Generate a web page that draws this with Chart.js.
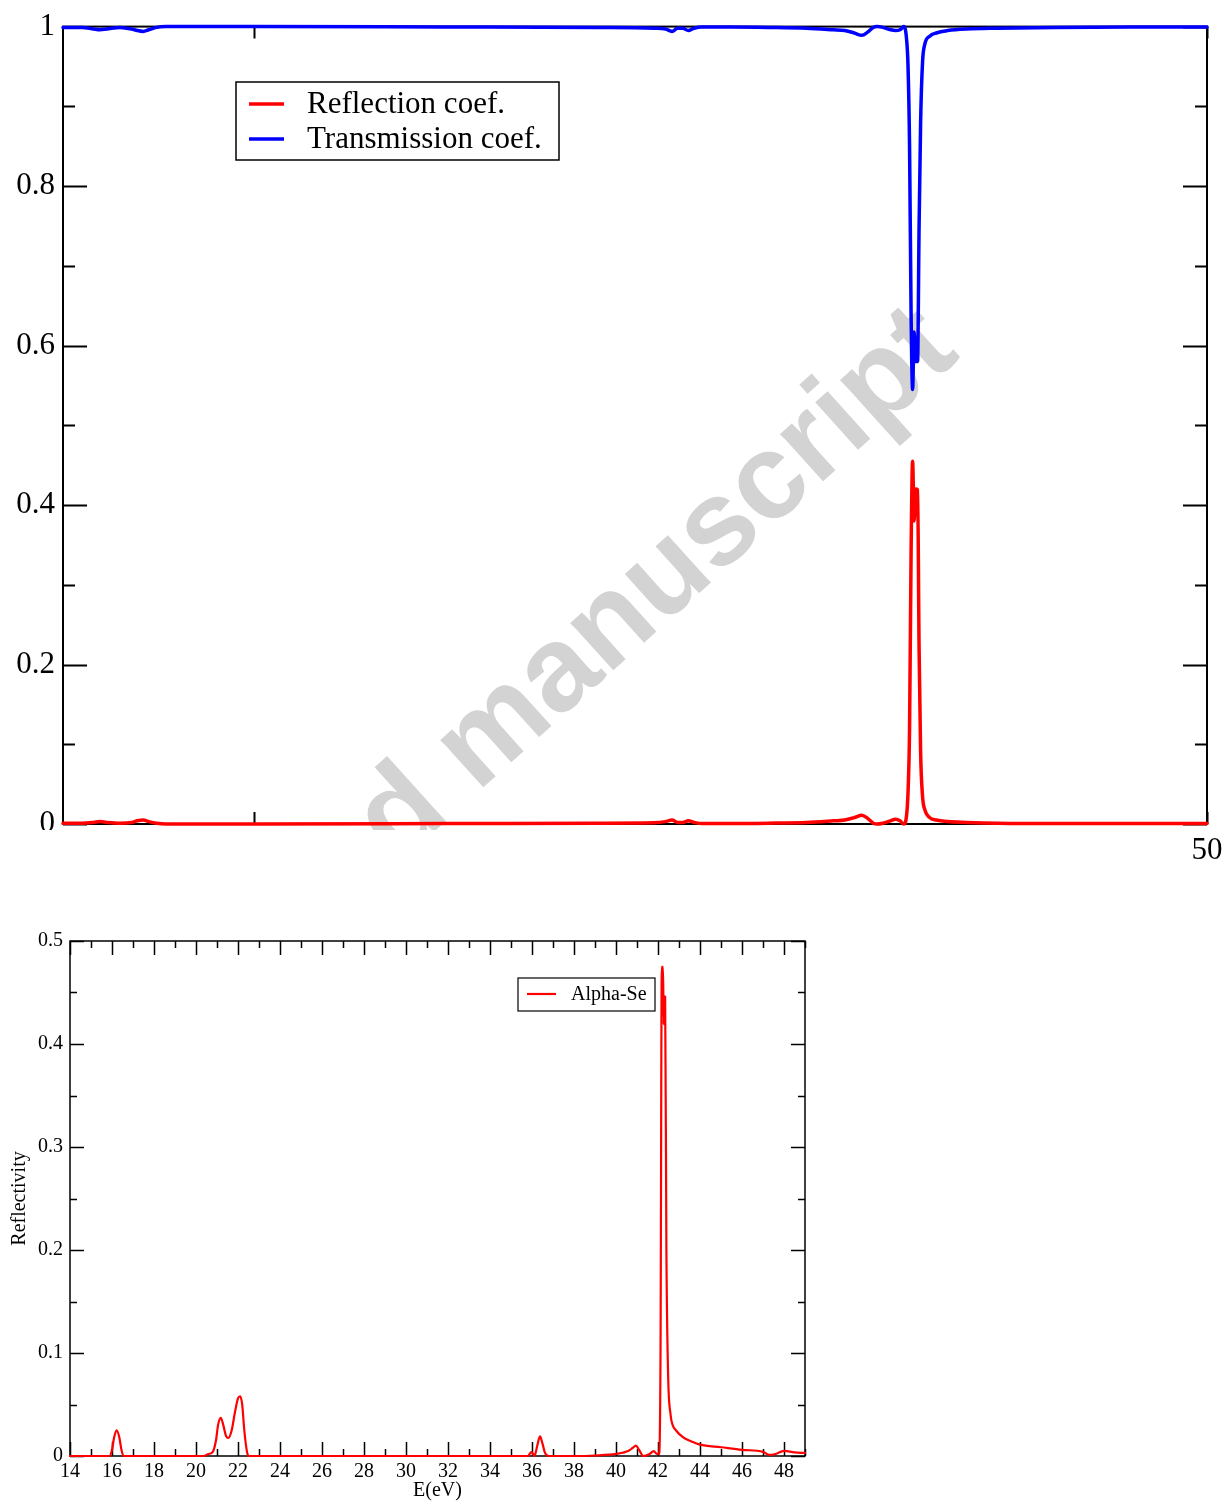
<!DOCTYPE html>
<html>
<head>
<meta charset="utf-8">
<script src="https://cdn.jsdelivr.net/npm/chart.js@4.4.0/dist/chart.umd.min.js"></script>
<style>
  html, body { margin: 0; padding: 0; background: #fff; }
  #page { position: relative; width: 1225px; height: 1503px; overflow: hidden; }
  #topWrap { position: absolute; left: 0; top: 0; width: 1225px; height: 870px; }
  #botWrap { position: absolute; left: 0; top: 900px; width: 1225px; height: 603px; }
</style>
</head>
<body>
<div id="page">
  <div id="topWrap"><canvas id="chartTop" width="1225" height="870"></canvas></div>
  <div id="botWrap"><canvas id="chartBot" width="1225" height="603"></canvas></div>
</div>
<script>
// ── top panel : reflection / transmission coefficients ──
const topE = [20.0, 20.5, 20.8, 20.97, 21.15, 21.5, 21.8, 21.95, 22.1, 22.25, 22.45, 22.7, 25.0, 30.0, 34.0,
  35.5, 35.8, 35.97, 36.12, 36.25, 36.4, 36.55, 36.75, 37.5, 38.5, 39.5, 40.2, 40.5, 40.75, 40.95,
  41.1, 41.25, 41.35, 41.5, 41.7, 41.83, 41.95, 42.05, 42.12, 42.16, 42.2, 42.24, 42.28, 42.32, 42.36,
  42.41, 42.45, 42.49, 42.54, 42.6, 42.73, 42.9, 43.2, 43.7, 44.5, 46.0, 48.0, 50.0];
const topR = [0.001, 0.001, 0.002, 0.003, 0.002, 0.001, 0.002, 0.004, 0.005, 0.003, 0.001, 0.0, 0.0, 0.0005, 0.001,
  0.0015, 0.003, 0.005, 0.002, 0.002, 0.004, 0.002, 0.0005, 0.0005, 0.001, 0.002, 0.004, 0.005, 0.008, 0.011,
  0.007, 0.001, 0.0, 0.001, 0.004, 0.006, 0.004, 0.0, 0.01, 0.04, 0.12, 0.34, 0.455, 0.38, 0.42,
  0.419, 0.22, 0.09, 0.035, 0.018, 0.008, 0.005, 0.003, 0.002, 0.001, 0.0005, 0.0005, 0.0005];
const topT = [0.999, 0.999, 0.997, 0.996, 0.997, 0.999, 0.997, 0.995, 0.994, 0.996, 0.999, 1.0, 1.0, 0.9995, 0.999,
  0.998, 0.997, 0.994, 0.998, 0.998, 0.995, 0.998, 0.9995, 0.9995, 0.999, 0.998, 0.996, 0.995, 0.992, 0.989,
  0.993, 0.999, 1.0, 0.999, 0.996, 0.995, 0.996, 1.0, 0.985, 0.95, 0.85, 0.64, 0.545, 0.617, 0.58,
  0.58, 0.75, 0.88, 0.955, 0.978, 0.988, 0.992, 0.995, 0.997, 0.998, 0.999, 0.9995, 0.9995];
const topLabels = ['Reflection coef.', 'Transmission coef.'];
const topXMajor = [25, 50];
const topXLabeled = [50];
const topYMajor = [0, 0.2, 0.4, 0.6, 0.8, 1];
const topYMinor = [0.1, 0.3, 0.5, 0.7, 0.9];

// ── bottom panel : reflectivity of alpha-Se ──
const botE = [14.0, 15.88, 16.0, 16.1, 16.22, 16.35, 16.45, 16.55, 20.35, 20.6, 20.8, 20.95, 21.05, 21.18, 21.3,
  21.42, 21.54, 21.7, 21.85, 22.0, 22.1, 22.2, 22.3, 22.42, 22.5, 35.8, 35.98, 36.12, 36.25, 36.38,
  36.5, 36.62, 36.8, 38.0, 39.0, 40.0, 40.6, 40.8, 40.95, 41.1, 41.3, 41.6, 41.8, 41.95, 42.05,
  42.12, 42.18, 42.24, 42.27, 42.3, 42.34, 42.4, 42.48, 42.6, 42.7, 42.85, 43.2, 43.6, 44.0, 45.0,
  46.0, 47.0, 47.3, 47.6, 48.0, 48.5, 49.0];
const botR = [0.0, 0.0, 0.006, 0.018, 0.025, 0.018, 0.006, 0.0, 0.0, 0.002, 0.004, 0.015, 0.03, 0.037, 0.03,
  0.02, 0.0175, 0.025, 0.042, 0.056, 0.058, 0.05, 0.025, 0.005, 0.0, 0.0, 0.004, 0.0, 0.01, 0.019,
  0.012, 0.003, 0.0, 0.0, 0.0005, 0.002, 0.005, 0.008, 0.010, 0.006, 0.0, 0.002, 0.0047, 0.002, 0.002,
  0.1, 0.475, 0.475, 0.419, 0.446, 0.446, 0.2, 0.08, 0.04, 0.03, 0.025, 0.018, 0.014, 0.011, 0.0085,
  0.006, 0.004, 0.001, 0.002, 0.005, 0.0035, 0.003];
const botLabel = 'Alpha-Se';
const botXMajor = [14, 16, 18, 20, 22, 24, 26, 28, 30, 32, 34, 36, 38, 40, 42, 44, 46, 48];
const botXMinor = [15, 17, 19, 21, 23, 25, 27, 29, 31, 33, 35, 37, 39, 41, 43, 45, 47, 49];
const botYMajor = [0, 0.1, 0.2, 0.3, 0.4, 0.5];
const botYMinor = [0.05, 0.15, 0.25, 0.35, 0.45];

const SERIF = '"Liberation Serif", "Times New Roman", serif';
const pts = (xs, ys) => xs.map((x, i) => ({ x, y: ys[i] }));

// cadre + graduations vers l'intérieur sur les 4 côtés
function framePlugin(o) {
  return {
    id: 'frame',
    beforeDatasetsDraw(chart) {
      const { ctx, chartArea: a, scales: { x, y } } = chart;
      ctx.save();
      ctx.strokeStyle = '#000';
      ctx.lineWidth = o.frame;
      ctx.strokeRect(a.left, a.top, a.right - a.left, a.bottom - a.top);
      ctx.lineWidth = o.tick;
      ctx.beginPath();
      const xt = (vals, len) => vals.forEach(v => {
        const p = Math.round(x.getPixelForValue(v)) + 0.5;
        ctx.moveTo(p, a.bottom); ctx.lineTo(p, a.bottom - len);
        ctx.moveTo(p, a.top); ctx.lineTo(p, a.top + len);
      });
      const yt = (vals, len) => vals.forEach(v => {
        const p = Math.round(y.getPixelForValue(v)) + 0.5;
        ctx.moveTo(a.left, p); ctx.lineTo(a.left + len, p);
        ctx.moveTo(a.right, p); ctx.lineTo(a.right - len, p);
      });
      xt(o.xMajor, o.xMajorLen); xt(o.xMinor, o.minorLen);
      yt(o.yMajor, o.majorLen); yt(o.yMinor, o.minorLen);
      ctx.stroke();
      ctx.restore();
    }
  };
}

function legendPlugin(o) {
  return {
    id: 'boxLegend',
    afterDatasetsDraw(chart) {
      const { ctx } = chart;
      ctx.save();
      ctx.fillStyle = '#fff';
      ctx.fillRect(o.x, o.y, o.w, o.h);
      ctx.strokeStyle = '#000';
      ctx.lineWidth = o.border;
      ctx.strokeRect(o.x, o.y, o.w, o.h);
      ctx.font = o.font;
      ctx.textBaseline = 'middle';
      ctx.textAlign = 'left';
      chart.data.datasets.forEach((ds, i) => {
        const yy = o.y + o.first + i * o.gap;
        ctx.strokeStyle = ds.borderColor;
        ctx.lineWidth = ds.borderWidth;
        ctx.beginPath();
        ctx.moveTo(o.x + o.l0, yy); ctx.lineTo(o.x + o.l1, yy);
        ctx.stroke();
        ctx.fillStyle = '#000';
        ctx.fillText(ds.label, o.x + o.tx, yy + 1);
      });
      ctx.restore();
    }
  };
}

const watermark = {
  id: 'watermark',
  beforeDatasetsDraw(chart) {
    const { ctx } = chart;
    ctx.save();
    ctx.beginPath();
    ctx.rect(0, 0, chart.width, 830);
    ctx.clip();
    ctx.translate(477, 793);
    ctx.rotate(-42 * Math.PI / 180);
    ctx.font = 'bold 121px "Liberation Sans", Arial, sans-serif';
    ctx.fillStyle = '#d3d3d3';
    ctx.textBaseline = 'alphabetic';
    ctx.textAlign = 'left';
    ctx.fillText('manuscript', 0, 0);
    ctx.textAlign = 'right';
    ctx.fillText('Accepted ', 0, 0);
    ctx.restore();
  }
};

// la figure du haut est rognée juste sous l'axe
const cropTop = {
  id: 'cropTop',
  afterDraw(chart) {
    const { ctx } = chart;
    ctx.save();
    ctx.fillStyle = '#fff';
    ctx.fillRect(0, 830, 1175, 40);
    ctx.restore();
  }
};

const lineEl = { tension: 0.4, cubicInterpolationMode: 'monotone', fill: false,
  borderJoinStyle: 'round', borderCapStyle: 'round' };
// pas de marge auto pour les étiquettes qui débordent : la zone de tracé reste fixe
const noEdgePad = s => { s.paddingLeft = 0; s.paddingRight = 0; };

new Chart(document.getElementById('chartTop'), {
  type: 'line',
  data: {
    datasets: [
      { label: topLabels[0], data: pts(topE, topR), borderColor: '#ff0000', borderWidth: 3.5 },
      { label: topLabels[1], data: pts(topE, topT), borderColor: '#0000ff', borderWidth: 3.5 },
    ],
  },
  options: {
    responsive: false, animation: false, devicePixelRatio: 1,
    layout: { padding: { top: 24, right: 18, left: 0, bottom: 0 } },
    elements: { point: { radius: 0 }, line: lineEl },
    datasets: { line: { clip: false } },
    plugins: { legend: { display: false }, tooltip: { enabled: false } },
    scales: {
      x: {
        type: 'linear', min: 20, max: 50,
        afterBuildTicks: s => { s.ticks = topXMajor.map(v => ({ value: v })); },
        afterFit: s => { s.height = 46; noEdgePad(s); },
        grid: { display: false, drawTicks: false }, border: { display: false },
        ticks: { autoSkip: false, maxRotation: 0, padding: 8, color: '#000',
          font: { family: SERIF, size: 31 },
          callback: v => topXLabeled.includes(v) ? String(v) : '' },
      },
      y: {
        type: 'linear', min: 0, max: 1,
        afterBuildTicks: s => { s.ticks = topYMajor.map(v => ({ value: v })); },
        afterFit: s => { s.width = 63; },
        grid: { display: false, drawTicks: false }, border: { display: false },
        ticks: { autoSkip: false, padding: 8, color: '#000',
          font: { family: SERIF, size: 31 }, callback: v => String(v) },
      },
    },
  },
  plugins: [
    watermark,
    framePlugin({ frame: 2, tick: 2, xMajor: topXMajor, xMinor: [], yMajor: topYMajor, yMinor: topYMinor,
      xMajorLen: 12, majorLen: 24, minorLen: 12 }),
    legendPlugin({ x: 236, y: 82, w: 323, h: 78, border: 1.5, first: 22, gap: 35, l0: 13, l1: 48, tx: 71,
      font: '31px ' + SERIF }),
    cropTop,
  ],
});

new Chart(document.getElementById('chartBot'), {
  type: 'line',
  data: {
    datasets: [
      { label: botLabel, data: pts(botE, botR), borderColor: '#ff0000', borderWidth: 2.2 },
    ],
  },
  options: {
    responsive: false, animation: false, devicePixelRatio: 1,
    layout: { padding: { top: 41, right: 420, left: 0, bottom: 0 } },
    elements: { point: { radius: 0 }, line: lineEl },
    datasets: { line: { clip: false } },
    plugins: { legend: { display: false }, tooltip: { enabled: false } },
    scales: {
      x: {
        type: 'linear', min: 14, max: 49,
        afterBuildTicks: s => { s.ticks = botXMajor.map(v => ({ value: v })); },
        afterFit: s => { s.height = 47; noEdgePad(s); },
        grid: { display: false, drawTicks: false }, border: { display: false },
        ticks: { autoSkip: false, maxRotation: 0, padding: 4, color: '#000',
          font: { family: SERIF, size: 20 }, callback: v => String(v) },
        title: { display: true, text: 'E(eV)', color: '#000', padding: 0,
          font: { family: SERIF, size: 20 } },
      },
      y: {
        type: 'linear', min: 0, max: 0.5,
        afterBuildTicks: s => { s.ticks = botYMajor.map(v => ({ value: v })); },
        afterFit: s => { s.width = 70; },
        grid: { display: false, drawTicks: false }, border: { display: false },
        ticks: { autoSkip: false, padding: 7, color: '#000',
          font: { family: SERIF, size: 20 }, callback: v => String(v) },
        title: { display: true, text: 'Reflectivity', color: '#000', padding: { top: 8, bottom: 0 },
          font: { family: SERIF, size: 20 } },
      },
    },
  },
  plugins: [
    framePlugin({ frame: 1.5, tick: 1.5, xMajor: botXMajor, xMinor: botXMinor, yMajor: botYMajor, yMinor: botYMinor,
      xMajorLen: 14, majorLen: 14, minorLen: 7 }),
    legendPlugin({ x: 518, y: 78, w: 137, h: 33, border: 1.2, first: 16, gap: 0, l0: 9, l1: 38, tx: 53,
      font: '20px ' + SERIF }),
  ],
});
</script>
</body>
</html>
